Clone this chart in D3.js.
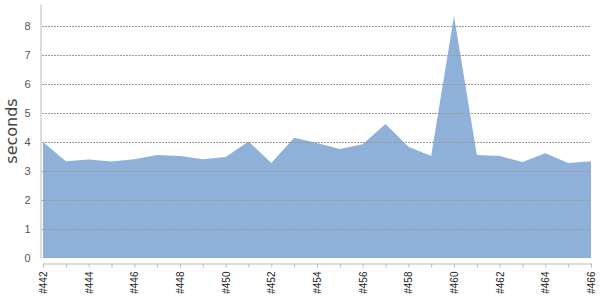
<!DOCTYPE html>
<html>
<head>
<meta charset="utf-8">
<script src="https://cdn.jsdelivr.net/npm/d3@7"></script>
<style>
  body { margin: 0; background: #fff; }
  svg { display: block; font-family: "DejaVu Sans", Verdana, sans-serif; }
</style>
</head>
<body>
<script>
// build numbers along the x axis
var builds = ["#442","#443","#444","#445","#446","#447","#448","#449","#450","#451",
              "#452","#453","#454","#455","#456","#457","#458","#459","#460","#461",
              "#462","#463","#464","#465","#466"];
// build durations in seconds
var seconds = [4.00, 3.34, 3.40, 3.33, 3.41, 3.55, 3.52, 3.41, 3.48, 4.02,
               3.28, 4.15, 3.97, 3.76, 3.92, 4.62, 3.84, 3.52, 8.35, 3.55,
               3.52, 3.31, 3.61, 3.28, 3.34];
var yTicks = [0, 1, 2, 3, 4, 5, 6, 7, 8];

var width = 600, height = 300;

var svg = d3.select("body").append("svg")
    .attr("width", width)
    .attr("height", height);

var x = d3.scalePoint()
    .domain(builds)
    .range([43, 591]);

var y = d3.scaleLinear()
    .domain([0, 8.76])
    .range([258, 4]);

var data = builds.map(function(b, i) { return {build: b, value: seconds[i]}; });

// area
var area = d3.area()
    .x(function(d) { return x(d.build); })
    .y0(y(0))
    .y1(function(d) { return y(d.value); });

svg.append("path")
    .datum(data)
    .attr("d", area)
    .attr("fill", "#8eb0d9");

// dotted grid lines, drawn over the area
svg.append("g")
    .selectAll("line")
    .data(yTicks.slice(1))
    .enter().append("line")
    .attr("x1", 42)
    .attr("x2", 591)
    .attr("y1", function(d) { return Math.round(y(d)) + 0.5; })
    .attr("y2", function(d) { return Math.round(y(d)) + 0.5; })
    .attr("stroke", "#9a9a9a")
    .attr("stroke-width", 1)
    .attr("stroke-dasharray", "2,1");

// y axis
var yAxis = svg.append("g")
    .attr("transform", "translate(40.5,0)")
    .call(d3.axisLeft(y).tickValues(yTicks).tickSize(0).tickSizeOuter(0).tickPadding(10));
yAxis.select(".domain").attr("stroke", "#bbb");
yAxis.selectAll("text")
    .style("font-size", "11px")
    .attr("fill", "#555");

// x axis
var xAxis = svg.append("g")
    .attr("transform", "translate(0,263.5)")
    .call(d3.axisBottom(x).tickSize(4).tickSizeOuter(0));
xAxis.select(".domain").attr("stroke", "#bbb");
xAxis.selectAll(".tick line").attr("stroke", "#bbb");
xAxis.selectAll("text")
    .text(function(d, i) { return i % 2 === 0 ? d : ""; })
    .style("font-size", "10px")
    .attr("fill", "#222")
    .attr("text-anchor", "end")
    .attr("transform", "rotate(-90)")
    .attr("x", -8)
    .attr("y", 0)
    .attr("dy", "0.35em");

// y axis title
svg.append("text")
    .attr("transform", "translate(17,131) rotate(-90)")
    .attr("text-anchor", "middle")
    .style("font-size", "16px")
    .attr("fill", "#444")
    .text("seconds");
</script>
</body>
</html>
